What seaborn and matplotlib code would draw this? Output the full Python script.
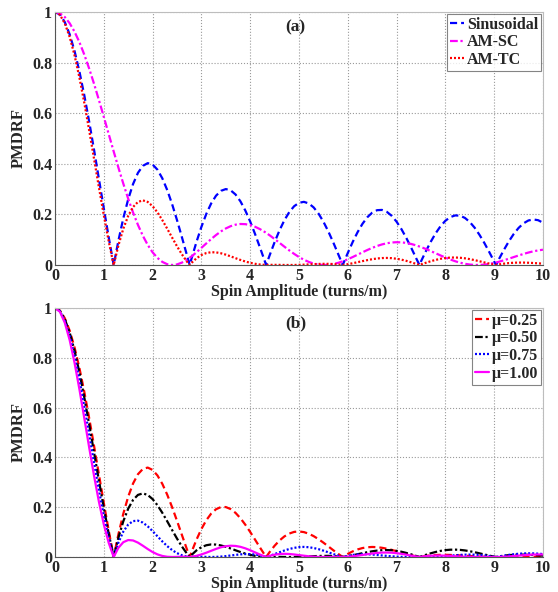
import numpy as np
import pandas as pd
import matplotlib
matplotlib.use("Agg")
import matplotlib.pyplot as plt
import seaborn as sns

# ---------------- data ----------------
spin = [round(0.1 * i, 1) for i in range(101)]  # sampling positions, turns/m

# positions where the |.|-shaped curves touch zero (cusps)
cusp_x = [1.2024, 2.7601, 4.3265, 5.8965, 7.4682, 9.0406]

sinusoidal = [1.0000, 0.9900, 0.9604, 0.9120, 0.8463, 0.7652, 0.6711, 0.5669, 0.4554, 0.3400,
              0.2239, 0.1104, 0.0025, 0.0968, 0.1850, 0.2601, 0.3202, 0.3643, 0.3918, 0.4026,
              0.3971, 0.3766, 0.3423, 0.2961, 0.2404, 0.1776, 0.1103, 0.0412, 0.0270, 0.0917,
              0.1506, 0.2017, 0.2433, 0.2740, 0.2931, 0.3001, 0.2951, 0.2786, 0.2516, 0.2154,
              0.1717, 0.1222, 0.0692, 0.0146, 0.0392, 0.0903, 0.1367, 0.1768, 0.2090, 0.2323,
              0.2459, 0.2496, 0.2434, 0.2276, 0.2032, 0.1712, 0.1330, 0.0902, 0.0446, 0.0020,
              0.0477, 0.0908, 0.1296, 0.1626, 0.1887, 0.2069, 0.2167, 0.2177, 0.2101, 0.1943,
              0.1711, 0.1414, 0.1065, 0.0679, 0.0271, 0.0142, 0.0544, 0.0919, 0.1253, 0.1533,
              0.1749, 0.1893, 0.1960, 0.1949, 0.1861, 0.1699, 0.1472, 0.1188, 0.0864, 0.0507,
              0.0134, 0.0241, 0.0601, 0.0934, 0.1226, 0.1466, 0.1646, 0.1759, 0.1801, 0.1771,
              0.1670]

am_sc = [1.0000, 0.9950, 0.9801, 0.9557, 0.9224, 0.8808, 0.8317, 0.7765, 0.7162, 0.6521,
         0.5855, 0.5178, 0.4504, 0.3845, 0.3214, 0.2619, 0.2074, 0.1584, 0.1156, 0.0794,
         0.0501, 0.0278, 0.0122, 0.0031, 0.0000, 0.0023, 0.0094, 0.0203, 0.0342, 0.0503,
         0.0677, 0.0853, 0.1025, 0.1185, 0.1327, 0.1445, 0.1535, 0.1594, 0.1621, 0.1614,
         0.1577, 0.1511, 0.1418, 0.1303, 0.1172, 0.1027, 0.0877, 0.0725, 0.0578, 0.0440,
         0.0315, 0.0208, 0.0122, 0.0057, 0.0017, 0.0000, 0.0007, 0.0036, 0.0084, 0.0149,
         0.0227, 0.0314, 0.0407, 0.0501, 0.0592, 0.0677, 0.0751, 0.0813, 0.0859, 0.0889,
         0.0901, 0.0895, 0.0871, 0.0831, 0.0776, 0.0709, 0.0633, 0.0550, 0.0464, 0.0378,
         0.0295, 0.0218, 0.0149, 0.0092, 0.0048, 0.0018, 0.0002, 0.0002, 0.0015, 0.0043,
         0.0082, 0.0130, 0.0187, 0.0249, 0.0313, 0.0376, 0.0437, 0.0492, 0.0540, 0.0577,
         0.0605]

am_tc = [1.0000, 0.9888, 0.9556, 0.9018, 0.8295, 0.7415, 0.6414, 0.5329, 0.4201, 0.3069,
         0.1972, 0.0946, 0.0021, 0.0779, 0.1437, 0.1942, 0.2293, 0.2494, 0.2555, 0.2492,
         0.2325, 0.2078, 0.1772, 0.1433, 0.1083, 0.0741, 0.0424, 0.0145, 0.0087, 0.0267,
         0.0394, 0.0472, 0.0505, 0.0499, 0.0464, 0.0409, 0.0341, 0.0269, 0.0200, 0.0138,
         0.0086, 0.0047, 0.0019, 0.0003, 0.0005, 0.0006, 0.0004, 0.0001, 0.0000, 0.0001,
         0.0006, 0.0013, 0.0023, 0.0033, 0.0041, 0.0046, 0.0045, 0.0038, 0.0022, 0.0001,
         0.0032, 0.0069, 0.0111, 0.0153, 0.0193, 0.0229, 0.0257, 0.0274, 0.0279, 0.0270,
         0.0247, 0.0211, 0.0163, 0.0106, 0.0043, 0.0023, 0.0088, 0.0149, 0.0202, 0.0245,
         0.0276, 0.0293, 0.0296, 0.0286, 0.0264, 0.0232, 0.0192, 0.0147, 0.0101, 0.0056,
         0.0014, 0.0023, 0.0053, 0.0075, 0.0089, 0.0095, 0.0095, 0.0089, 0.0079, 0.0067,
         0.0053]

mu_025 = [1.0000, 0.9897, 0.9592, 0.9094, 0.8421, 0.7592, 0.6636, 0.5583, 0.4463, 0.3315,
          0.2170, 0.1063, 0.0024, 0.0918, 0.1739, 0.2423, 0.2954, 0.3325, 0.3536, 0.3591,
          0.3497, 0.3273, 0.2934, 0.2501, 0.1999, 0.1454, 0.0888, 0.0326, 0.0210, 0.0699,
          0.1125, 0.1476, 0.1743, 0.1919, 0.2006, 0.2006, 0.1924, 0.1771, 0.1557, 0.1297,
          0.1005, 0.0695, 0.0382, 0.0078, 0.0203, 0.0452, 0.0662, 0.0826, 0.0941, 0.1008,
          0.1026, 0.1000, 0.0936, 0.0838, 0.0716, 0.0577, 0.0427, 0.0276, 0.0130, 0.0006,
          0.0125, 0.0225, 0.0303, 0.0359, 0.0391, 0.0403, 0.0395, 0.0370, 0.0333, 0.0286,
          0.0233, 0.0178, 0.0123, 0.0072, 0.0026, 0.0012, 0.0043, 0.0066, 0.0080, 0.0087,
          0.0088, 0.0083, 0.0075, 0.0064, 0.0052, 0.0040, 0.0028, 0.0018, 0.0011, 0.0005,
          0.0001, 0.0001, 0.0002, 0.0002, 0.0001, 0.0000, 0.0000, 0.0000, 0.0001, 0.0002,
          0.0004]

mu_050 = am_tc

mu_075 = [1.0000, 0.9872, 0.9496, 0.8891, 0.8089, 0.7128, 0.6057, 0.4927, 0.3788, 0.2689,
          0.1672, 0.0773, 0.0016, 0.0583, 0.1021, 0.1303, 0.1442, 0.1460, 0.1381, 0.1232,
          0.1040, 0.0830, 0.0624, 0.0436, 0.0278, 0.0156, 0.0070, 0.0018, 0.0008, 0.0014,
          0.0010, 0.0004, 0.0000, 0.0004, 0.0016, 0.0035, 0.0060, 0.0085, 0.0106, 0.0117,
          0.0116, 0.0099, 0.0065, 0.0016, 0.0046, 0.0117, 0.0190, 0.0260, 0.0321, 0.0367,
          0.0396, 0.0405, 0.0393, 0.0361, 0.0315, 0.0255, 0.0189, 0.0120, 0.0055, 0.0002,
          0.0049, 0.0083, 0.0104, 0.0112, 0.0109, 0.0098, 0.0081, 0.0062, 0.0044, 0.0027,
          0.0015, 0.0006, 0.0002, 0.0000, 0.0000, 0.0000, 0.0002, 0.0006, 0.0014, 0.0026,
          0.0040, 0.0055, 0.0070, 0.0084, 0.0093, 0.0097, 0.0093, 0.0083, 0.0065, 0.0040,
          0.0011, 0.0021, 0.0053, 0.0084, 0.0110, 0.0130, 0.0143, 0.0148, 0.0145, 0.0134,
          0.0118]

mu_100 = [1.0000, 0.9851, 0.9413, 0.8716, 0.7806, 0.6740, 0.5581, 0.4402, 0.3262, 0.2217,
          0.1311, 0.0572, 0.0011, 0.0372, 0.0595, 0.0681, 0.0664, 0.0577, 0.0453, 0.0320,
          0.0199, 0.0105, 0.0042, 0.0009, 0.0000, 0.0004, 0.0010, 0.0008, 0.0009, 0.0046,
          0.0102, 0.0172, 0.0249, 0.0325, 0.0389, 0.0434, 0.0453, 0.0444, 0.0408, 0.0348,
          0.0271, 0.0185, 0.0098, 0.0019, 0.0046, 0.0093, 0.0120, 0.0128, 0.0121, 0.0102,
          0.0077, 0.0052, 0.0030, 0.0013, 0.0003, 0.0000, 0.0001, 0.0003, 0.0004, 0.0000,
          0.0011, 0.0029, 0.0053, 0.0081, 0.0112, 0.0140, 0.0163, 0.0177, 0.0180, 0.0173,
          0.0154, 0.0127, 0.0093, 0.0056, 0.0021, 0.0010, 0.0034, 0.0051, 0.0058, 0.0058,
          0.0052, 0.0041, 0.0029, 0.0018, 0.0009, 0.0003, 0.0000, 0.0000, 0.0001, 0.0002,
          0.0001, 0.0003, 0.0011, 0.0023, 0.0038, 0.0055, 0.0072, 0.0087, 0.0097, 0.0102,
          0.0101]

legend_a = ["Sinusoidal", "AM-SC", "AM-TC"]
legend_b = ["\u03bc=0.25", "\u03bc=0.50", "\u03bc=0.75", "\u03bc=1.00"]
x_ticks = list(range(0, 11))
y_ticks = [0, 0.2, 0.4, 0.6, 0.8, 1]
y_tick_labels = ["0", "0.2", "0.4", "0.6", "0.8", "1"]


def series_frame(x, y, cusps=None):
    df = pd.DataFrame({"x": x, "y": y})
    if cusps is not None:
        df = pd.concat([df, pd.DataFrame({"x": cusps, "y": [0.0] * len(cusps)})])
    return df.sort_values("x").reset_index(drop=True)


# ---------------- style ----------------
sns.set_style("whitegrid")
plt.rcParams["font.family"] = ["Liberation Serif", "DejaVu Serif"]
plt.rcParams["font.weight"] = "bold"
plt.rcParams["axes.labelweight"] = "bold"

fig = plt.figure(figsize=(5.58, 5.92), dpi=100)
ax_a = fig.add_axes([55 / 558, 1 - 265 / 592, 488 / 558, 253 / 592])
ax_b = fig.add_axes([55 / 558, 1 - 557 / 592, 488 / 558, 249 / 592])

LW = 1.6
specs_a = [
    (sinusoidal, legend_a[0], "#0000FF", (0, (3.2, 1.8)), cusp_x),
    (am_sc, legend_a[1], "#FF00FF", (0, (3.5, 1.2, 1.0, 1.2)), None),
    (am_tc, legend_a[2], "#FF0000", (0, (0.9, 0.9)), cusp_x),
]
specs_b = [
    (mu_025, legend_b[0], "#FF0000", (0, (3.2, 1.8)), cusp_x),
    (mu_050, legend_b[1], "#000000", (0, (3.5, 1.2, 1.0, 1.2)), cusp_x),
    (mu_075, legend_b[2], "#0000FF", (0, (0.9, 0.9)), cusp_x),
    (mu_100, legend_b[3], "#FF00FF", "-", cusp_x),
]

for ax, specs, tag in [(ax_a, specs_a, "(a)"), (ax_b, specs_b, "(b)")]:
    for vals, name, col, ls, cz in specs:
        d = series_frame(spin, vals, cz)
        sns.lineplot(data=d, x="x", y="y", ax=ax, color=col, linestyle=ls,
                     linewidth=LW, label=name, estimator=None, sort=True)
    ax.set_xlim(0, 10)
    ax.set_ylim(0, 1)
    ax.set_xticks(x_ticks)
    ax.set_xticklabels([str(t) for t in x_ticks])
    ax.set_yticks(y_ticks)
    ax.set_yticklabels(y_tick_labels)
    ax.tick_params(axis="both", labelsize=11.5, pad=2, length=0)
    for lab in ax.get_xticklabels() + ax.get_yticklabels():
        lab.set_fontweight("bold")
    ax.grid(True, linestyle=":", color="#9a9a9a", linewidth=0.8)
    for s in ax.spines.values():
        s.set_color("#bdbdbd")
        s.set_linewidth(0.8)
    ax.spines["bottom"].set_color("#555555")
    ax.spines["left"].set_color("#555555")
    ax.set_xlabel("Spin Amplitude (turns/m)", fontsize=11.5, fontweight="bold", labelpad=0)
    ax.set_ylabel("PMDRF", fontsize=12, fontweight="bold", labelpad=4)
    ax.text(4.72, 0.94, tag, fontsize=12.5, fontweight="bold", va="center", ha="left")
    leg = ax.legend(loc="upper right", frameon=True, fancybox=False, handlelength=0.85,
                    handletextpad=0.2, borderpad=0.2, labelspacing=0.1,
                    borderaxespad=0.1, prop={"size": 11.5, "weight": "bold"})
    leg.get_frame().set_edgecolor("#666666")
    leg.get_frame().set_linewidth(0.8)

fig.savefig("out.png", dpi=100)
